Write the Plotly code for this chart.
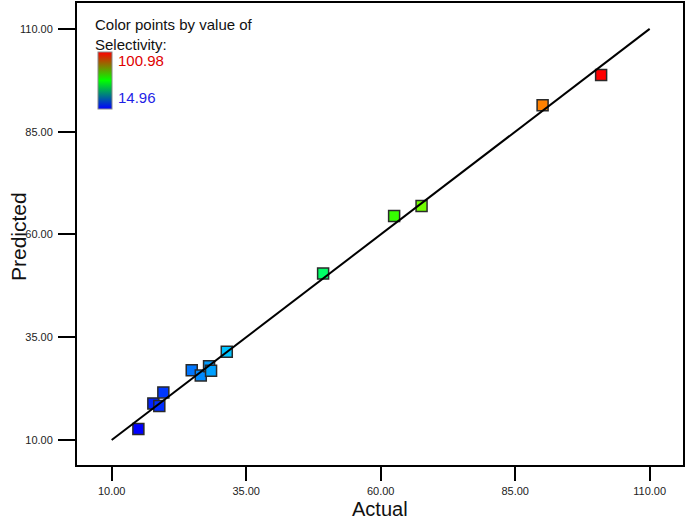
import plotly.graph_objects as go

# ---- data ----
actual = [14.96, 17.74, 18.85, 19.60, 24.88, 26.56, 28.10, 28.47, 31.39, 49.30, 62.50, 67.60, 90.10, 100.98]
predicted = [12.67, 18.91, 18.26, 21.59, 27.00, 25.70, 27.97, 26.87, 31.45, 50.50, 64.50, 66.90, 91.40, 98.80]
line_x = [10, 110]
line_y = [10, 110]
sel_min = 14.96
sel_max = 100.98
tick_vals = [10, 35, 60, 85, 110]
tick_text = ["10.00", "35.00", "60.00", "85.00", "110.00"]

point_scale = [[0.0, "rgb(0,0,255)"], [0.25, "rgb(0,255,255)"], [0.5, "rgb(0,255,0)"],
               [0.75, "rgb(255,255,0)"], [1.0, "rgb(255,0,0)"]]
legend_scale = [[0.0, "rgb(0,0,255)"], [0.5, "rgb(0,255,0)"], [1.0, "rgb(255,0,0)"]]

W, H = 686, 519
L, R, T, B = 77, 3, 3, 54
pw, ph = W - L - R, H - T - B

def px_x(p):
    return (p - L) / pw

def px_y(p):
    return (H - B - p) / ph

fig = go.Figure()

fig.add_trace(go.Scatter(
    x=actual, y=predicted, mode="markers",
    marker=dict(symbol="square", size=11, color=actual, cmin=sel_min, cmax=sel_max,
                colorscale=point_scale, showscale=False,
                line=dict(color="#2a2a2a", width=1.5)),
    showlegend=False, hoverinfo="x+y"))

fig.add_trace(go.Scatter(
    x=line_x, y=line_y, mode="lines", line=dict(color="black", width=2),
    showlegend=False, hoverinfo="skip"))

# colour legend bar
fig.add_trace(go.Scatter(
    x=[None, None], y=[None, None], mode="markers",
    marker=dict(color=[sel_min, sel_max], cmin=sel_min, cmax=sel_max,
                colorscale=legend_scale, showscale=True,
                colorbar=dict(x=px_x(98), xanchor="left", y=px_y(80.5), yanchor="middle",
                              len=57, lenmode="pixels", thickness=14,
                              xpad=0, ypad=0, outlinewidth=1, outlinecolor="#8a8a8a",
                              showticklabels=False, ticks="")),
    showlegend=False, hoverinfo="skip"))

font_fam = "Liberation Sans, Arial, sans-serif"

fig.add_annotation(x=px_x(93), y=px_y(34), xref="paper", yref="paper",
                   xanchor="left", yanchor="middle", align="left", showarrow=False,
                   text="Color points by value of<br>Selectivity:",
                   font=dict(family=font_fam, size=15, color="#111111"))
fig.add_annotation(x=px_x(116), y=px_y(61), xref="paper", yref="paper",
                   xanchor="left", yanchor="middle", showarrow=False,
                   text=f"{sel_max:.2f}", font=dict(family=font_fam, size=15, color="#e00000"))
fig.add_annotation(x=px_x(116), y=px_y(97.5), xref="paper", yref="paper",
                   xanchor="left", yanchor="middle", showarrow=False,
                   text=f"{sel_min:.2f}", font=dict(family=font_fam, size=15, color="#1f1fe6"))
# axis titles
fig.add_annotation(x=px_x(19), y=px_y(236), xref="paper", yref="paper",
                   xanchor="center", yanchor="middle", textangle=-90, showarrow=False,
                   text="Predicted", font=dict(family=font_fam, size=21, color="#111111"))
fig.add_annotation(x=px_x(380), y=px_y(508.5), xref="paper", yref="paper",
                   xanchor="center", yanchor="middle", showarrow=False, borderpad=0,
                   text="Actual", font=dict(family=font_fam, size=20, color="#111111"))

axis_common = dict(showline=True, linecolor="black", linewidth=2, mirror=True,
                   showgrid=False, zeroline=False, ticks="outside", tickwidth=2,
                   tickcolor="black", tickvals=tick_vals, ticktext=tick_text,
                   tickfont=dict(family=font_fam, size=11, color="#222222"))

fig.update_layout(
    width=W, height=H, autosize=False,
    margin=dict(l=L, r=R, t=T, b=B),
    paper_bgcolor="white", plot_bgcolor="white",
    font=dict(family=font_fam),
    xaxis=dict(range=[3.55, 116.2], ticklen=14, ticklabelstandoff=1,
               automargin=False, **axis_common),
    yaxis=dict(range=[3.93, 116.3], ticklen=17, ticklabelstandoff=3,
               automargin=False, **axis_common),
)

fig.write_html("out.html", config={"displayModeBar": False},
               post_script="document.body.style.margin='0';document.body.style.overflow='hidden';")
